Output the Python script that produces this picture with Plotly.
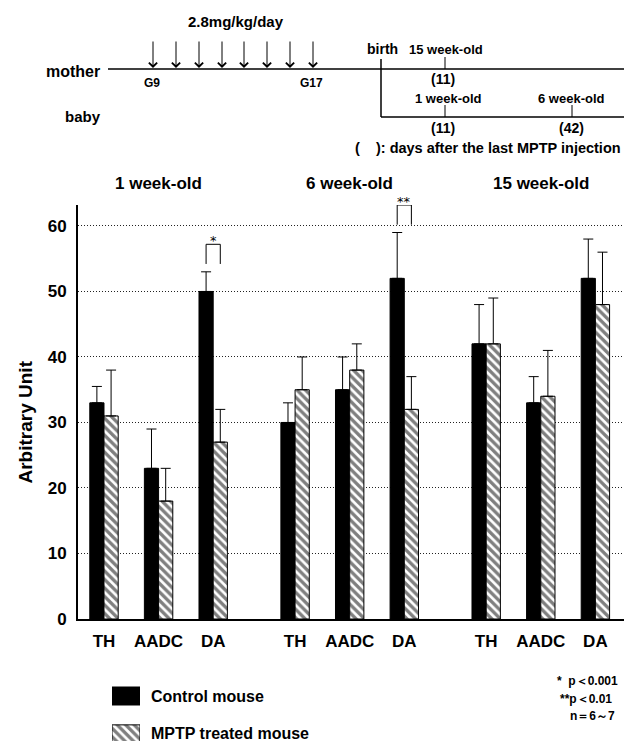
import plotly.graph_objects as go

# ---------------- data ----------------
groups = ["1 week-old", "6 week-old", "15 week-old"]
markers = ["TH", "AADC", "DA"]
series_names = ["Control mouse", "MPTP treated mouse"]
control_mean = [33, 23, 50, 30, 35, 52, 42, 33, 52]
control_err = [2.5, 6, 3, 3, 5, 7, 6, 4, 6]
mptp_mean = [31, 18, 27, 35, 38, 32, 42, 34, 48]
mptp_err = [7, 5, 5, 5, 4, 5, 7, 7, 8]
y_ticks = [0, 10, 20, 30, 40, 50, 60]
# significance: (category index, label)
sig_marks = [(2, "*"), (5, "**")]
notes = ["*  p＜0.001", "**p＜0.01", "n＝6～7"]

W, H = 624, 743
FONT = "Liberation Sans, Arial, sans-serif"


def X(px):
    return px / W


def Y(py):
    return 1 - py / H


# category positions: 3 per group, with gap of 1.5 slots between groups
xpos = []
for g in range(len(groups)):
    for m in range(len(markers)):
        xpos.append(g * 3.5 + m)
xlabels = markers * len(groups)

BW = 0.26
HATCH = dict(shape="\\", fgcolor="black", bgcolor="white", size=6, solidity=0.55)

fig = go.Figure()
fig.add_trace(go.Bar(
    x=xpos, y=control_mean, width=BW, offset=-BW, name=series_names[0],
    marker=dict(color="black", line=dict(color="black", width=1)),
    error_y=dict(type="data", symmetric=False, array=control_err,
                 arrayminus=[0] * len(control_err), color="black",
                 thickness=1, width=5),
    showlegend=False,
))
fig.add_trace(go.Bar(
    x=xpos, y=mptp_mean, width=BW, offset=0, name=series_names[1],
    marker=dict(color="white", line=dict(color="black", width=1), pattern=HATCH),
    error_y=dict(type="data", symmetric=False, array=mptp_err,
                 arrayminus=[0] * len(mptp_err), color="black",
                 thickness=1, width=5),
    showlegend=False,
))

# legend swatches as a tiny auxiliary subplot (labels = tick labels on right)
fig.add_trace(go.Bar(
    x=[1], y=[series_names[0]], orientation="h", width=0.48,
    marker=dict(color="black", line=dict(color="black", width=1)),
    xaxis="x2", yaxis="y2", showlegend=False, hoverinfo="skip",
))
fig.add_trace(go.Bar(
    x=[1], y=[series_names[1]], orientation="h", width=0.46,
    marker=dict(color="white", line=dict(color="black", width=1), pattern=HATCH),
    xaxis="x2", yaxis="y2", showlegend=False, hoverinfo="skip",
))

shapes = []
annotations = []

# significance brackets
for idx, lab in sig_marks:
    top = max(control_mean[idx] + control_err[idx], mptp_mean[idx] + mptp_err[idx])
    y0 = top + 1.2
    y1 = top + 4.2
    xc = xpos[idx]
    shapes.append(dict(type="path", xref="x", yref="y",
                       path=f"M{xc - BW/2},{y0} L{xc - BW/2},{y1} L{xc + BW/2},{y1} L{xc + BW/2},{y0}",
                       line=dict(color="black", width=1)))
    annotations.append(dict(x=xc, y=y1, xref="x", yref="y", text=lab, showarrow=False,
                            xanchor="center", yanchor="bottom", yshift=-6,
                            font=dict(family="DejaVu Sans", size=13, color="black")))

# group titles
for g, name in enumerate(groups):
    annotations.append(dict(x=g * 3.5 + 1, y=Y(183), xref="x", yref="paper", text=name,
                            showarrow=False, xanchor="center", yanchor="middle",
                            font=dict(family=FONT, size=17, color="black", weight="bold")))

# y axis title
annotations.append(dict(x=X(24.5), y=Y(422), xref="paper", yref="paper", text="Arbitrary Unit",
                        textangle=-90, showarrow=False, xanchor="center", yanchor="middle",
                        font=dict(family=FONT, size=19, color="black", weight="bold")))

# ---------------- timeline (top) ----------------
def txt(px, py, s, size, xanchor="center"):
    annotations.append(dict(x=X(px), y=Y(py), xref="paper", yref="paper", text=s,
                            showarrow=False, xanchor=xanchor, yanchor="middle",
                            font=dict(family=FONT, size=size, color="black", weight="bold")))


def line(x0, y0, x1, y1, w=1.5):
    shapes.append(dict(type="line", xref="paper", yref="paper", x0=X(x0), y0=Y(y0),
                       x1=X(x1), y1=Y(y1), line=dict(color="black", width=w)))


txt(236, 21, "2.8mg/kg/day", 15)
txt(102, 71, "mother", 16, "right")
txt(103, 117, "baby", 15, "right")
line(108, 69, 624, 69)
arrow_x = [153, 176, 199, 222, 244, 267, 290, 313]
for ax in arrow_x:
    annotations.append(dict(x=X(ax), y=Y(68), xref="paper", yref="paper", text="",
                            showarrow=True, ax=0, ay=-28, arrowhead=4, arrowsize=1.6,
                            arrowwidth=1, arrowcolor="black"))
txt(152, 83, "G9", 12)
txt(311, 83, "G17", 12)
txt(382, 49, "birth", 14)
line(381, 59, 381, 117)
line(381, 117, 624, 117)
txt(446, 49, "15 week-old", 13)
line(445, 57, 445, 69, 1)
txt(443, 79, "(11)", 14)
txt(448, 98, "1 week-old", 13)
line(445, 105, 445, 117, 1)
txt(443, 128, "(11)", 14)
txt(571, 98, "6 week-old", 13)
line(572, 105, 572, 117, 1)
txt(571, 128, "(42)", 14)
txt(623, 148, "(    ): days after the last MPTP injection", 14.5, "right")

# notes bottom right
txt(620, 681, notes[0], 12, "right")
txt(614, 699, notes[1], 12, "right")
txt(617, 716, notes[2], 12, "right")

fig.update_layout(
    width=W, height=H,
    margin=dict(l=0, r=0, t=0, b=0, autoexpand=False),
    paper_bgcolor="white", plot_bgcolor="white",
    barmode="overlay",
    shapes=shapes, annotations=annotations,
    font=dict(family=FONT, color="black"),
    xaxis=dict(domain=[X(78), 1], range=[-0.476, 9.524], tickvals=xpos, ticktext=xlabels,
               showline=True, linecolor="black", linewidth=2, showgrid=False, zeroline=False,
               ticks="", ticklabelstandoff=6, automargin=False,
               tickfont=dict(family=FONT, size=17, color="black", weight="bold")),
    yaxis=dict(domain=[Y(619), Y(205)], range=[0, 63.2], tickvals=y_ticks,
               showline=True, linecolor="black", linewidth=2, zeroline=False,
               showgrid=True, gridcolor="#222", gridwidth=1, griddash="1px,2px",
               ticks="", ticklabelstandoff=6, automargin=False,
               tickfont=dict(family=FONT, size=17, color="black", weight="bold")),
    xaxis2=dict(domain=[X(112), X(140)], range=[0, 1], anchor="y2", visible=False,
                automargin=False),
    yaxis2=dict(domain=[Y(741), Y(677.25)], range=[-0.2, 1.5], anchor="x2", side="right",
                categoryorder="array", categoryarray=[series_names[1], series_names[0]],
                showline=False, showgrid=False, zeroline=False, ticks="",
                ticklabelstandoff=10, automargin=False,
                tickfont=dict(family=FONT, size=16, color="black", weight="bold")),
)

fig.write_html("out.html", config={"displayModeBar": False},
               post_script="document.body.style.margin='0';")
